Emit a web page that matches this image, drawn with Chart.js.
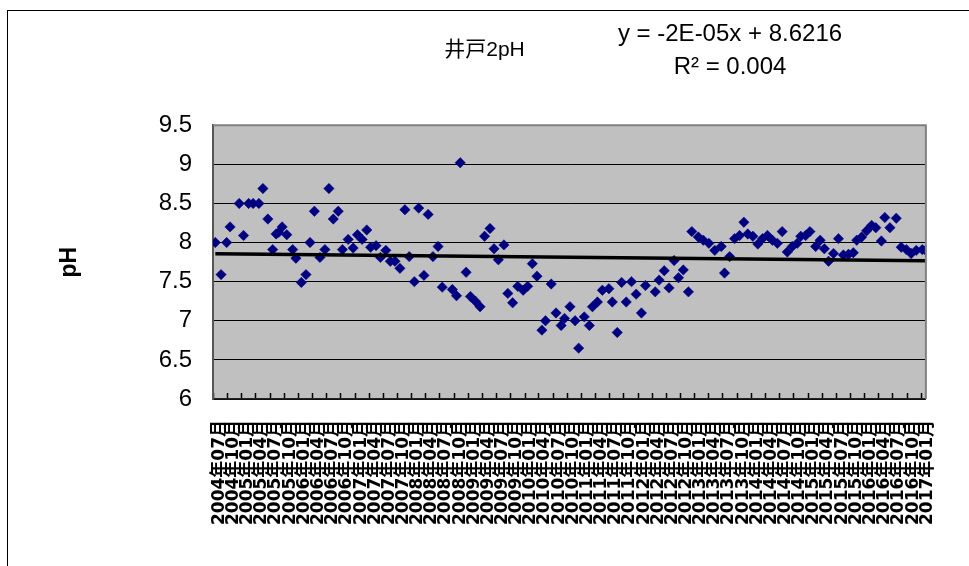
<!DOCTYPE html>
<html>
<head>
<meta charset="utf-8">
<script src="https://cdn.jsdelivr.net/npm/chart.js@4.4.0/dist/chart.umd.min.js"></script>
<style>
  html, body { margin: 0; padding: 0; background: #fff; overflow: hidden; }
  #wrap { position: relative; width: 969px; height: 566px; }
  #frame { position: absolute; left: 7px; top: 10px; width: 2000px; height: 2000px;
           border-left: 1.5px solid #000; border-top: 1.5px solid #000; }
  #c { position: absolute; left: 0; top: 0; }
</style>
</head>
<body>
<div id="wrap">
  <div id="frame"></div>
  <canvas id="c" width="969" height="566"></canvas>
</div>
<script>
// ---- data ----
const chartTitle = '井戸2pH';
const yAxisTitle = 'pH';
const trendText = ['y = -2E-05x + 8.6216', 'R² = 0.004'];
const trendSlope = -2e-5;      // per day (Excel serial)
const trendIntercept = 8.6216;

const sampleDates = [
 '2004-07-13','2004-08-19','2004-09-24','2004-10-16','2004-12-14','2005-01-11','2005-02-13','2005-03-14',
 '2005-04-20','2005-05-16','2005-06-17','2005-07-18','2005-08-09','2005-08-26','2005-09-17','2005-10-17',
 '2005-11-24','2005-12-15','2006-01-19','2006-02-18','2006-03-16','2006-04-13','2006-05-19','2006-06-20',
 '2006-07-16','2006-08-13','2006-09-14','2006-10-11','2006-11-17','2006-12-19','2007-01-16','2007-02-15',
 '2007-03-17','2007-04-11','2007-05-16','2007-06-13','2007-07-18','2007-08-16','2007-09-15','2007-10-17',
 '2007-11-18','2007-12-16','2008-01-18','2008-02-15','2008-03-20','2008-04-16','2008-05-17','2008-06-19',
 '2008-07-16','2008-09-19','2008-10-16','2008-11-09','2008-12-17','2009-01-14','2009-02-15','2009-03-17',
 '2009-04-15','2009-05-20','2009-06-15','2009-07-13','2009-08-18','2009-09-12','2009-10-13','2009-11-15',
 '2009-12-20','2010-01-18','2010-02-17','2010-03-19','2010-04-20','2010-05-13','2010-06-19','2010-07-20',
 '2010-08-22','2010-09-13','2010-10-18','2010-11-20','2010-12-13','2011-01-18','2011-02-20','2011-03-12',
 '2011-04-13','2011-05-15','2011-06-26','2011-07-18','2011-08-19','2011-09-16','2011-10-16','2011-11-19',
 '2011-12-19','2012-01-22','2012-02-17','2012-04-20','2012-05-15','2012-06-17','2012-07-18','2012-08-20',
 '2012-09-17','2012-10-18','2012-11-20','2012-12-12','2013-01-23','2013-02-24','2013-04-01','2013-05-09',
 '2013-06-20','2013-07-11','2013-08-13','2013-09-14','2013-10-16','2013-11-13','2013-12-08','2014-01-10',
 '2014-02-11','2014-03-13','2014-04-14','2014-05-16','2014-06-17','2014-07-18','2014-08-20','2014-09-21',
 '2014-10-23','2014-11-15','2014-12-16','2015-01-13','2015-02-19','2015-03-20','2015-04-16','2015-05-13',
 '2015-06-14','2015-07-16','2015-08-17','2015-09-19','2015-10-20','2015-11-11','2015-12-13','2016-01-14',
 '2016-02-15','2016-03-13','2016-04-18','2016-05-10','2016-06-12','2016-07-23','2016-08-24','2016-09-26',
 '2016-10-27','2016-11-29','2017-01-07','2017-01-28'
];
const phValues = [
 8.00,7.59,8.00,8.20,8.50,8.09,8.50,8.50,
 8.50,8.69,8.30,7.91,8.11,8.13,8.20,8.10,
 7.91,7.80,7.49,7.59,8.00,8.40,7.81,7.91,
 8.69,8.30,8.40,7.91,8.04,7.93,8.10,8.04,
 8.16,7.94,7.96,7.81,7.90,7.76,7.76,7.67,
 8.42,7.82,7.50,8.44,7.58,8.36,7.82,7.95,
 7.43,7.40,7.32,9.02,7.62,7.31,7.25,7.18,
 8.08,8.18,7.92,7.78,7.97,7.35,7.23,7.44,
 7.39,7.44,7.73,7.57,6.88,7.00,7.47,7.10,
 6.94,7.03,7.18,7.00,6.65,7.05,6.94,7.18,
 7.24,7.39,7.41,7.24,6.85,7.49,7.24,7.50,
 7.34,7.10,7.45,7.37,7.52,7.64,7.42,7.77,
 7.55,7.65,7.37,8.14,8.07,8.03,7.99,7.90,
 7.95,7.61,7.82,8.05,8.09,8.26,8.11,8.08,
 7.98,8.05,8.09,8.03,7.99,8.14,7.88,7.95,
 7.99,8.08,8.09,8.14,7.95,8.03,7.92,7.76,
 7.86,8.05,7.84,7.85,7.87,8.03,8.07,8.15,
 8.22,8.19,8.02,8.32,8.19,8.31,7.94,7.91,
 7.86,7.90,7.91,7.90
];
const tickLabels = [
 '2004年07月','2004年10月',
 '2005年01月','2005年04月','2005年07月','2005年10月',
 '2006年01月','2006年04月','2006年07月','2006年10月',
 '2007年01月','2007年04月','2007年07月','2007年10月',
 '2008年01月','2008年04月','2008年07月','2008年10月',
 '2009年01月','2009年04月','2009年07月','2009年10月',
 '2010年01月','2010年04月','2010年07月','2010年10月',
 '2011年01月','2011年04月','2011年07月','2011年10月',
 '2012年01月','2012年04月','2012年07月','2012年10月',
 '2013年01月','2013年04月','2013年07月','2013年10月',
 '2014年01月','2014年04月','2014年07月','2014年10月',
 '2015年01月','2015年04月','2015年07月','2015年10月',
 '2016年01月','2016年04月','2016年07月','2016年10月',
 '2017年01月'
];
const yTicks = [6, 6.5, 7, 7.5, 8, 8.5, 9, 9.5];
const xAxisStart = '2004-06-28';
const xAxisEnd = '2017-01-30';

// ---- helpers ----
function serialOf(y, m, d) { return Date.UTC(y, m - 1, d) / 86400000 + 25569; }
function serialFromISO(s) { const p = s.split('-').map(Number); return serialOf(p[0], p[1], p[2]); }
function serialFromLabel(s) { const m = s.match(/(\d+)年(\d+)月/); return serialOf(+m[1], +m[2], 1); }

const points = sampleDates.map((d, i) => ({ x: serialFromISO(d), y: phValues[i] }));
const x0 = points[0].x, x1 = points[points.length - 1].x;
const trendPoints = [
  { x: x0, y: trendSlope * x0 + trendIntercept },
  { x: x1, y: trendSlope * x1 + trendIntercept }
];

const plotDeco = {
  id: 'plotDeco',
  beforeDraw(chart) {
    const { ctx, chartArea: a } = chart;
    ctx.save();
    ctx.fillStyle = '#c0c0c0';
    ctx.fillRect(a.left, a.top, a.right - a.left, a.bottom - a.top);
    ctx.restore();
  },
  afterDraw(chart) {
    const { ctx, chartArea: a } = chart;
    ctx.save();
    ctx.strokeStyle = '#808080';
    ctx.lineWidth = 2;
    ctx.beginPath();
    ctx.moveTo(a.left, a.top); ctx.lineTo(a.right, a.top); ctx.lineTo(a.right, a.bottom);
    ctx.stroke();
    ctx.fillStyle = '#000';
    ctx.font = '24px "Liberation Sans", Arial, sans-serif';
    ctx.textAlign = 'center';
    ctx.textBaseline = 'middle';
    ctx.fillText(trendText[0], 730, 34);
    ctx.fillText(trendText[1], 730, 67);
    ctx.restore();
  }
};

new Chart(document.getElementById('c'), {
  data: {
    datasets: [
      {
        type: 'line',
        data: trendPoints,
        borderColor: '#000',
        borderWidth: 3.5,
        pointRadius: 0,
        fill: false,
        order: 0
      },
      {
        type: 'scatter',
        data: points,
        backgroundColor: '#000080',
        borderColor: '#000080',
        borderWidth: 0.5,
        pointStyle: 'rectRot',
        pointRadius: 5.2,
        order: 1
      }
    ]
  },
  options: {
    responsive: false,
    animation: false,
    devicePixelRatio: 1,
    layout: { padding: { left: 0, right: 0, top: 0, bottom: 0 } },
    plugins: {
      legend: { display: false },
      tooltip: { enabled: false },
      title: {
        display: true,
        text: chartTitle,
        color: '#000',
        font: { family: '"Liberation Sans", "Noto Sans CJK JP", sans-serif', size: 21, weight: 'normal' },
        padding: { top: 38, bottom: 62 }
      }
    },
    scales: {
      x: {
        type: 'linear',
        min: serialFromISO(xAxisStart),
        max: serialFromISO(xAxisEnd),
        afterBuildTicks(scale) { scale.ticks = tickLabels.map(l => ({ value: serialFromLabel(l) })); },
        afterFit(scale) { scale.height = 167; },
        border: { display: true, color: '#222', width: 1.5 },
        grid: { drawOnChartArea: false, drawTicks: true, tickLength: -6, tickColor: '#000', tickWidth: 1.5 },
        ticks: {
          autoSkip: false,
          minRotation: 90,
          maxRotation: 90,
          padding: 27,
          labelOffset: 6,
          color: '#000',
          font: { family: '"DejaVu Sans", "Noto Sans CJK JP", sans-serif', size: 17, weight: 'bold' },
          callback: (v, i) => tickLabels[i]
        }
      },
      y: {
        type: 'linear',
        position: 'left',
        min: 6,
        max: 9.5,
        afterBuildTicks(scale) { scale.ticks = yTicks.map(v => ({ value: v })); },
        afterFit(scale) { scale.width = 213; },
        border: { display: true, color: '#555', width: 2 },
        grid: {
          drawTicks: false,
          color: c => (c.tick && c.tick.value === 9.5) ? 'rgba(0,0,0,0)' : '#000',
          lineWidth: 1
        },
        ticks: {
          padding: 21,
          color: '#000',
          font: { family: '"Liberation Sans", Arial, sans-serif', size: 24 },
          callback: v => String(v)
        },
        title: {
          display: true,
          text: yAxisTitle,
          color: '#000',
          font: { family: '"Liberation Sans", Arial, sans-serif', size: 23, weight: 'bold' },
          padding: { top: 56, bottom: 0 }
        }
      },
      yRight: {
        type: 'linear',
        position: 'right',
        min: 6,
        max: 9.5,
        afterFit(scale) { scale.width = 36; },
        border: { display: false },
        grid: { display: false, drawTicks: false },
        ticks: { display: false }
      }
    }
  },
  plugins: [plotDeco]
});
</script>
</body>
</html>
